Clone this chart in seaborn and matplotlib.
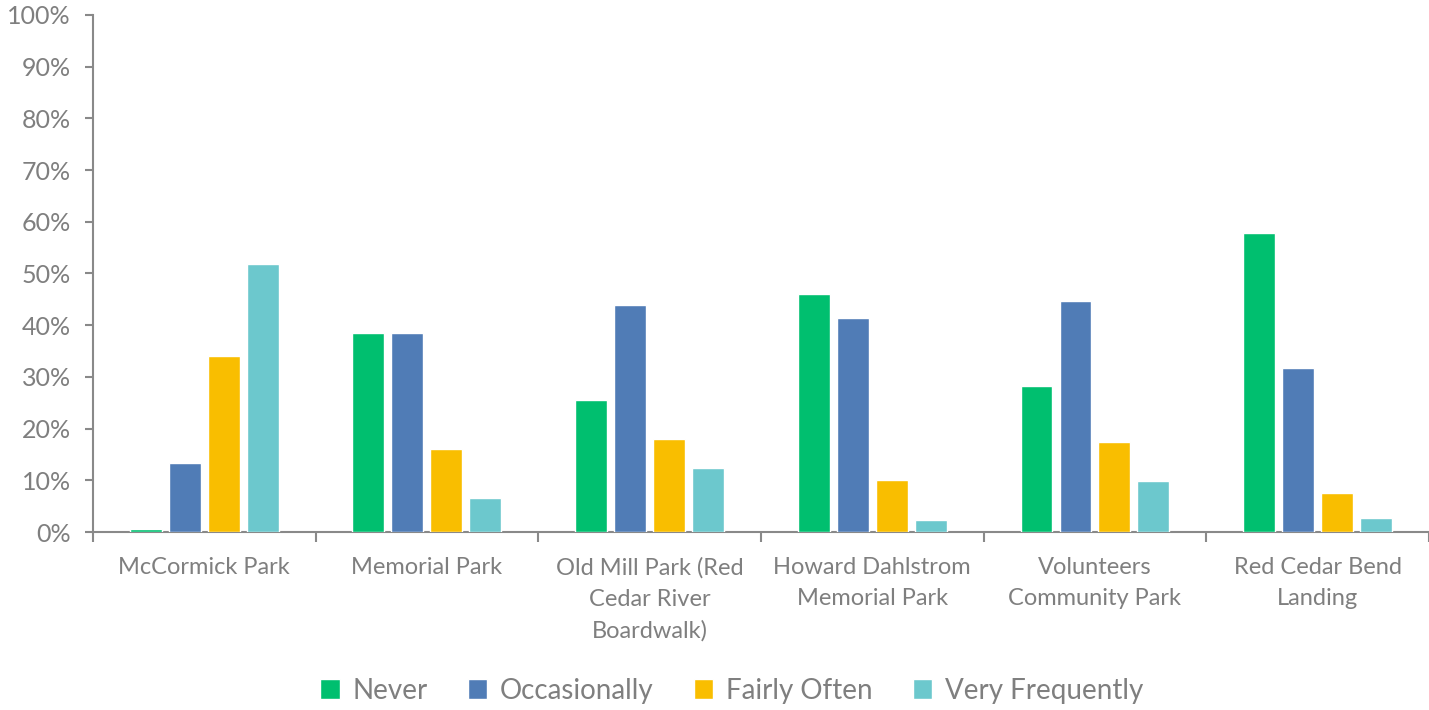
import pandas as pd
import numpy as np
import seaborn as sns
import matplotlib.pyplot as plt
from matplotlib.ticker import PercentFormatter, FixedLocator

# park names (wrapped like the original)
parks = [
    "McCormick Park",
    "Memorial Park",
    "Old Mill Park (Red\nCedar River\nBoardwalk)",
    "Howard Dahlstrom\nMemorial Park",
    "Volunteers\nCommunity Park",
    "Red Cedar Bend\nLanding",
]
levels = ["Never", "Occasionally", "Fairly Often", "Very Frequently"]

# percentages
never = [0.5, 38.5, 25.5, 46.1, 28.2, 57.8]
occasionally = [13.4, 38.5, 44.0, 41.3, 44.6, 31.7]
fairly_often = [34.1, 16.1, 17.9, 10.0, 17.4, 7.5]
very_frequently = [51.9, 6.6, 12.3, 2.3, 9.8, 2.8]

colors = ["#00BF6F", "#507CB6", "#F9BE00", "#6CC8CD"]

df = pd.DataFrame({
    "park": parks * 4,
    "level": np.repeat(levels, len(parks)),
    "value": never + occasionally + fairly_often + very_frequently,
})

sns.set_style("white")
plt.rcParams["font.family"] = ["Lato", "DejaVu Sans"]
grey = "#7F7F7F"

fig = plt.figure(figsize=(14.29, 7.10), dpi=100)
ax = fig.add_axes([0.065, 0.2507, 0.935, 0.7282])

sns.barplot(data=df, x="park", y="value", hue="level", hue_order=levels,
            palette=colors, saturation=1, width=0.7, gap=0.18, ax=ax, legend=True)
# keep bars above the baseline spine so tiny values stay visible
for p in ax.patches:
    p.set_zorder(3)

ax.set_ylim(0, 100)
ax.set_xlim(-0.5, 5.5)
ax.set_yticks(np.arange(0, 101, 10))
ax.yaxis.set_major_formatter(PercentFormatter(decimals=0))
ax.set_xlabel("")
ax.set_ylabel("")

for s in ["top", "right"]:
    ax.spines[s].set_visible(False)
for s in ["left", "bottom"]:
    ax.spines[s].set_color("#898989")
    ax.spines[s].set_linewidth(1.5)

ax.tick_params(axis="y", labelsize=18, colors=grey, length=6, width=1.5,
               direction="out", left=True, pad=10)
ax.tick_params(axis="y", which="major", color="#898989")
ax.tick_params(axis="x", which="major", length=0, labelsize=17, labelcolor=grey, pad=18)
ax.xaxis.set_minor_locator(FixedLocator(np.arange(-0.5, 6, 1)))
ax.tick_params(axis="x", which="minor", length=7, width=1.5, color="#898989",
               direction="out", bottom=True)
for t in ax.get_xticklabels():
    t.set_linespacing(1.6)

handles, labels = ax.get_legend_handles_labels()
ax.get_legend().remove()
leg = fig.legend(handles, labels, loc="center", bbox_to_anchor=(0.512, 0.027),
                 ncol=4, frameon=False, fontsize=20, handlelength=0.7,
                 handleheight=0.7, handletextpad=0.45, columnspacing=1.45)
for t in leg.get_texts():
    t.set_color(grey)

fig.savefig("out.png", dpi=100)
